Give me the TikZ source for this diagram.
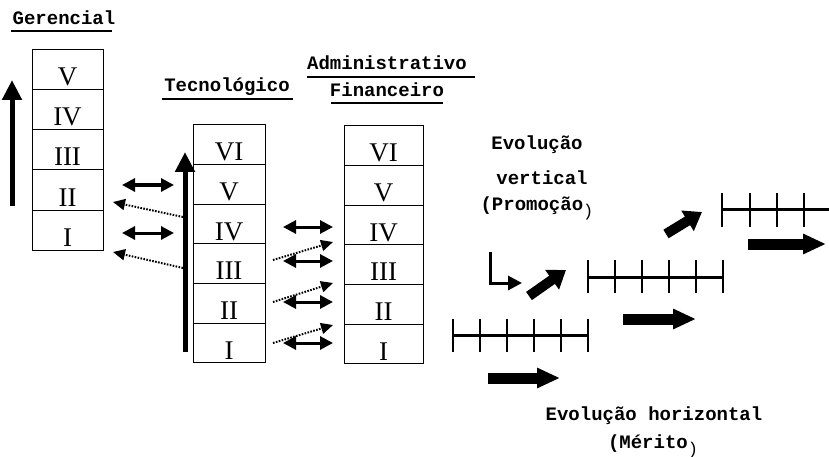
\documentclass[tikz,border=0pt]{standalone}
\usepackage{fontspec}
\setmainfont{Liberation Serif}
\newfontfamily\monob{Liberation Mono}
\usetikzlibrary{arrows.meta,calc}
\begin{document}
\begin{tikzpicture}[x=1pt,y=-1pt,
  cellbase/.style={draw,line width=1pt,inner sep=0pt,text height=32pt,text depth=0pt,
    font=\fontsize{27}{27}\selectfont},
  gcell/.style={cellbase,minimum width=71pt,minimum height=40pt},
  tcell/.style={cellbase,minimum width=72pt,minimum height=39.67pt},
  acell/.style={cellbase,minimum width=79pt,minimum height=39.67pt},
  lab/.style={inner sep=0pt,anchor=base,font=\monob\bfseries\fontsize{19}{19}\selectfont},
  paren/.style={},
  uline/.style={line width=1.6pt},
  bigup/.style={line width=5pt,-{Triangle[width=19pt,length=20pt]}},
  dbl/.style={line width=3pt,{Triangle[width=13pt,length=13pt]}-{Triangle[width=13pt,length=13pt]}},
  dotarr/.style={line width=2pt,dash pattern=on 1.6pt off 1.4pt,-{Triangle[width=11pt,length=12pt]}},
  fat/.style={line width=11pt,-{Triangle[width=19pt,length=23pt]}},
  fatdiag/.style={line width=10pt,-{Triangle[width=23pt,length=17pt]}},
  lbend/.style={line width=3pt,-{Triangle[width=14pt,length=14pt]}},
  scaleline/.style={line width=3pt},
  tick/.style={line width=1.2pt}
]
\useasboundingbox (0,0) rectangle (829,457);
\newcommand{\lowparen}{\raisebox{-6pt}{\mdseries\fontsize{17}{17}\selectfont)}}

% ---------- labels ----------
\node[lab] (gerlab) at (64,25) {Gerencial};
\draw[uline] (11,31) -- (112,31);
\node[lab] (teclab) at (227,92) {Tecnológico};
\draw[uline] (162,99) -- (293,99);
\node[lab] (admlab) at (387,70) {Administrativo};
\draw[uline] (307,77) -- (475,77);
\node[lab] (finlab) at (387,97) {Financeiro};
\draw[uline] (331,103) -- (443,103);

% ---------- Gerencial column ----------
\node[gcell] (g5) at (67.5,70) {V};
\node[gcell] (g4) at (67.5,110) {IV};
\node[gcell] (g3) at (67.5,150) {III};
\node[gcell] (g2) at (67.5,190) {II};
\node[gcell] (g1) at (67.5,230) {I};

% ---------- Tecnologico column ----------
\foreach \n/\t [count=\i from 0] in {t6/VI,t5/V,t4/IV,t3/III,t2/II,t1/I}
  \node[tcell] (\n) at (229,144.8+39.67*\i) {\t};

% ---------- Administrativo column ----------
\foreach \n/\t [count=\i from 0] in {a6/VI,a5/V,a4/IV,a3/III,a2/II,a1/I}
  \node[acell] (\n) at (383.5,145.8+39.67*\i) {\t};

% ---------- big vertical arrows ----------
\coordinate (gb) at (12,206); \coordinate (gt) at (12,80);
\draw[bigup] (gb) -- (gt);
\coordinate (tb) at (185,352); \coordinate (tt) at (185,152);
\draw[bigup] (tb) -- (tt);

% ---------- Gerencial <-> Tecnologico ----------
\coordinate (gl1) at (122,185); \coordinate (gr1) at (174,185);
\coordinate (gl2) at (122,233); \coordinate (gr2) at (174,233);
\draw[dbl] (gl1) -- (gr1);
\draw[dbl] (gl2) -- (gr2);
\coordinate (ds1) at (183,217); \coordinate (de1) at (113,202);
\coordinate (ds2) at (183,268); \coordinate (de2) at (113,252);
\draw[dotarr] (ds1) -- (de1);
\draw[dotarr] (ds2) -- (de2);

% ---------- Tecnologico <-> Administrativo ----------
\foreach \y [count=\i] in {227,261,302,343}{
  \coordinate (hl\i) at (283,\y); \coordinate (hr\i) at (333,\y);
  \draw[dbl] (hl\i) -- (hr\i);
}
\foreach \ys/\ye [count=\i] in {260/242,302/283,343/325}{
  \coordinate (ps\i) at (273,\ys); \coordinate (pe\i) at (333,\ye);
  \draw[dotarr] (ps\i) -- (pe\i);
}

% ---------- Evolucao vertical ----------
\node[lab] (ev1) at (537,150) {Evolução};
\node[lab] (ev2) at (542,185) {vertical};
\node[lab] (ev3) at (537,210) {(Promoção\lowparen};

\coordinate (lb1) at (490,252); \coordinate (lb2) at (490,283); \coordinate (lb3) at (522,283);
\draw[lbend] (lb1) -- (lb2) -- (lb3);

\coordinate (da1) at (529,296); \coordinate (da2) at (566,270);
\draw[fatdiag] (da1) -- (da2);
\coordinate (db1) at (666,234); \coordinate (db2) at (702,212);
\draw[fatdiag] (db1) -- (db2);

% ---------- scales ----------
\coordinate (s1a) at (453,335); \coordinate (s1b) at (588,335);
\draw[scaleline] (s1a) -- (s1b);
\foreach \x in {453,480,507,534,561,588} \draw[tick] (\x,319) -- (\x,352);

\coordinate (s2a) at (588,277); \coordinate (s2b) at (723,277);
\draw[scaleline] (s2a) -- (s2b);
\foreach \x in {588,615,642,669,696,723} \draw[tick] (\x,260) -- (\x,293);

\coordinate (s3a) at (722,209); \coordinate (s3b) at (829,209);
\draw[scaleline] (s3a) -- (s3b);
\foreach \x in {722,750,777,804} \draw[tick] (\x,193) -- (\x,227);

% ---------- horizontal fat arrows ----------
\coordinate (fa1) at (488,378); \coordinate (fb1) at (560,378);
\draw[fat] (fa1) -- (fb1);
\coordinate (fa2) at (623,319); \coordinate (fb2) at (696,319);
\draw[fat] (fa2) -- (fb2);
\coordinate (fa3) at (748,244); \coordinate (fb3) at (826,244);
\draw[fat] (fa3) -- (fb3);

% ---------- Evolucao horizontal ----------
\node[lab] (eh1) at (654,420) {Evolução horizontal};
\node[lab] (eh2) at (653,448) {(Mérito\lowparen};
\end{tikzpicture}
\end{document}
